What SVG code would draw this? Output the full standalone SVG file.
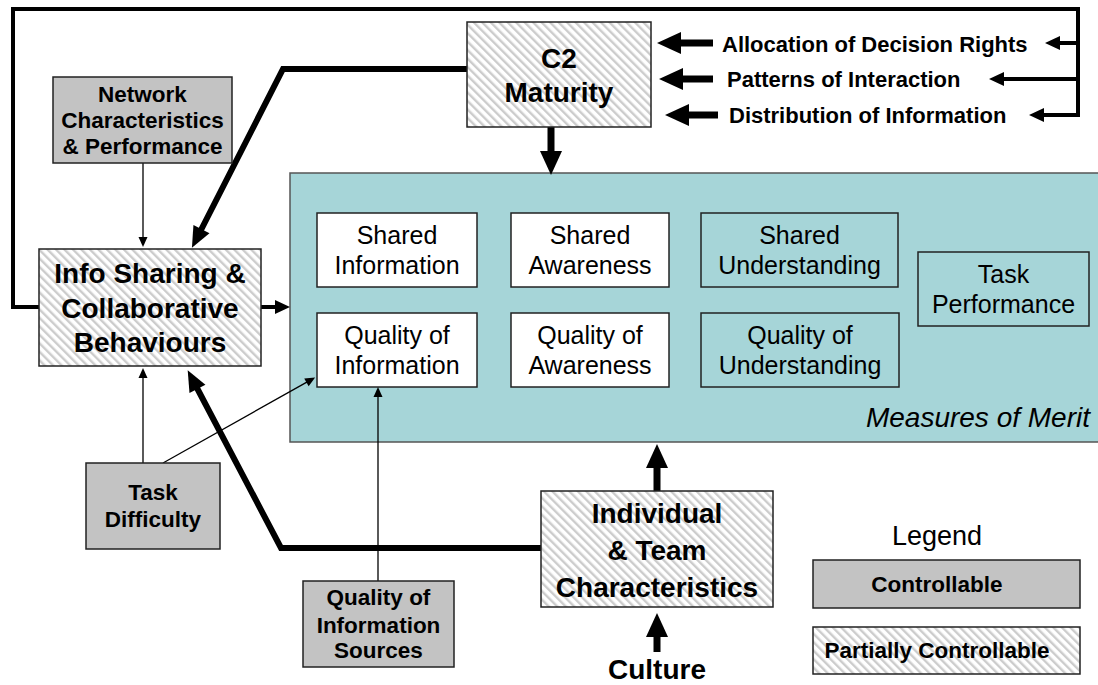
<svg xmlns="http://www.w3.org/2000/svg" width="1098" height="685" viewBox="0 0 1098 685">
<defs>
<pattern id="hatch" patternUnits="userSpaceOnUse" width="6" height="6" patternTransform="rotate(-45)">
<rect width="6" height="6" fill="#ffffff"/>
<rect width="2.4" height="6" fill="#cccccc"/>
</pattern>
<marker id="hBig" markerUnits="userSpaceOnUse" markerWidth="26" markerHeight="26" viewBox="0 -12 26 24" refX="1" refY="0" orient="auto" overflow="visible"><path d="M0,-11 L24,0 L0,11 z" fill="#000"/></marker>
<marker id="hDiag" markerUnits="userSpaceOnUse" markerWidth="22" markerHeight="20" viewBox="0 -10 22 20" refX="1" refY="0" orient="auto" overflow="visible"><path d="M0,-9 L21,0 L0,9 z" fill="#000"/></marker>
<marker id="hMid" markerUnits="userSpaceOnUse" markerWidth="16" markerHeight="16" viewBox="0 -8 16 16" refX="1" refY="0" orient="auto" overflow="visible"><path d="M0,-7 L15,0 L0,7 z" fill="#000"/></marker>
<marker id="hThin" markerUnits="userSpaceOnUse" markerWidth="12" markerHeight="10" viewBox="0 -5 12 10" refX="1" refY="0" orient="auto" overflow="visible"><path d="M0,-4.5 L10,0 L0,4.5 z" fill="#000"/></marker>
</defs>
<style>
text{font-family:"Liberation Sans",Arial,sans-serif;fill:#000;}
.bb{font-weight:bold;font-size:28px;text-anchor:middle;}
.bm{font-weight:bold;font-size:22.5px;text-anchor:middle;}
.fb{font-weight:bold;font-size:22px;}
.rg{font-size:25px;text-anchor:middle;}
.hatch{fill:url(#hatch);stroke:#222;stroke-width:1.5;}
.ctrl{fill:#c3c3c3;stroke:#222;stroke-width:1.5;}
.mw{fill:#ffffff;stroke:#222;stroke-width:1.5;}
.mt{fill:#a6d5d8;stroke:#222;stroke-width:1.5;}
.thick{fill:none;stroke:#000;stroke-width:7;}
.heavy{fill:none;stroke:#000;stroke-width:6;}
.loop{fill:none;stroke:#000;stroke-width:4;}
.thin{fill:none;stroke:#000;stroke-width:1.3;}
</style>
<rect width="1098" height="685" fill="#ffffff"/>

<g id="measures-of-merit">
<rect x="290" y="173" width="820" height="269" fill="#a6d5d8" stroke="#555" stroke-width="1.5"/>
<text x="1090" y="427" font-size="28" font-style="italic" text-anchor="end">Measures of Merit</text>
</g>
<g id="shared-information"><rect class="mw" x="317" y="213" width="160" height="74"/><text class="rg" x="397" y="244">Shared</text><text class="rg" x="397" y="274">Information</text></g>
<g id="shared-awareness"><rect class="mw" x="511" y="213" width="158" height="74"/><text class="rg" x="590" y="244">Shared</text><text class="rg" x="590" y="274">Awareness</text></g>
<g id="shared-understanding"><rect class="mt" x="701" y="213" width="197" height="74"/><text class="rg" x="799.5" y="244">Shared</text><text class="rg" x="799.5" y="274">Understanding</text></g>
<g id="quality-information"><rect class="mw" x="317" y="313" width="160" height="74"/><text class="rg" x="397" y="344">Quality of</text><text class="rg" x="397" y="374">Information</text></g>
<g id="quality-awareness"><rect class="mw" x="511" y="313" width="158" height="74"/><text class="rg" x="590" y="344">Quality of</text><text class="rg" x="590" y="374">Awareness</text></g>
<g id="quality-understanding"><rect class="mt" x="701" y="313" width="198" height="74"/><text class="rg" x="800" y="344">Quality of</text><text class="rg" x="800" y="374">Understanding</text></g>
<g id="task-performance"><rect class="mt" x="918" y="252" width="171" height="74"/><text class="rg" x="1003.5" y="283">Task</text><text class="rg" x="1003.5" y="313">Performance</text></g>

<g id="connectors">
<path class="loop" d="M39,307 H13 V9 H1078 V117"/>
<path class="loop" d="M1078,43 H1059" marker-end="url(#hMid)"/>
<path class="loop" d="M1078,79 H1003" marker-end="url(#hMid)"/>
<path class="loop" d="M1078,115 H1043" marker-end="url(#hMid)"/>
<path class="thick" d="M713,43 H680" marker-end="url(#hBig)"/>
<path class="thick" d="M713,79 H682" marker-end="url(#hBig)"/>
<path class="thick" d="M718,115 H688" marker-end="url(#hBig)"/>
<path class="thick" d="M551,127 V152" marker-end="url(#hBig)"/>
<path class="thick" d="M657,491 V467" marker-end="url(#hBig)"/>
<path class="thick" d="M657,652 V636" marker-end="url(#hBig)"/>
<path class="heavy" d="M467,69 H283 L201,230" stroke-linejoin="miter" marker-end="url(#hDiag)"/>
<path class="heavy" d="M541,548 H281 L197,388" stroke-linejoin="miter" marker-end="url(#hDiag)"/>
<path class="loop" d="M261,307 H276" stroke-width="5" marker-end="url(#hMid)"/>
<path class="thin" d="M143,163 V238" marker-end="url(#hThin)"/>
<path class="thin" d="M143,463 V377" marker-end="url(#hThin)"/>
<path class="thin" d="M163,463 L307.3,381.9" marker-end="url(#hThin)"/>
<path class="thin" d="M378,581 V396" marker-end="url(#hThin)"/>
</g>

<g id="c2-maturity"><rect class="hatch" x="467" y="22" width="184" height="105"/><text class="bb" x="559" y="68">C2</text><text class="bb" x="559" y="102">Maturity</text></g>
<g id="allocation-label"><text class="fb" x="722" y="52">Allocation of Decision Rights</text></g>
<g id="patterns-label"><text class="fb" x="727" y="87">Patterns of Interaction</text></g>
<g id="distribution-label"><text class="fb" x="729" y="123">Distribution of Information</text></g>
<g id="network"><rect class="ctrl" x="53" y="77" width="179" height="86"/><text class="bm" x="142.5" y="102">Network</text><text class="bm" x="142.5" y="128">Characteristics</text><text class="bm" x="142.5" y="154">&amp; Performance</text></g>
<g id="info-sharing"><rect class="hatch" x="39" y="249" width="222" height="117"/><text class="bb" x="150" y="283">Info Sharing &amp;</text><text class="bb" x="150" y="318">Collaborative</text><text class="bb" x="150" y="352">Behaviours</text></g>
<g id="task-difficulty"><rect class="ctrl" x="86" y="463" width="134" height="86"/><text class="bm" x="153" y="500">Task</text><text class="bm" x="153" y="527">Difficulty</text></g>
<g id="info-sources"><rect class="ctrl" x="303" y="581" width="151" height="86"/><text class="bm" x="378.5" y="605">Quality of</text><text class="bm" x="378.5" y="633">Information</text><text class="bm" x="378.5" y="658">Sources</text></g>
<g id="individual-team"><rect class="hatch" x="541" y="491" width="232" height="116"/><text class="bb" x="657" y="523">Individual</text><text class="bb" x="657" y="560">&amp; Team</text><text class="bb" x="657" y="597">Characteristics</text></g>
<g id="culture"><text class="bb" x="657" y="679">Culture</text></g>
<g id="legend">
<text x="937" y="545" font-size="27" text-anchor="middle">Legend</text>
<rect class="ctrl" x="813" y="560" width="267" height="48"/><text class="bm" x="937" y="592">Controllable</text>
<rect class="hatch" x="813" y="627" width="267" height="47"/><text class="bm" x="937" y="658">Partially Controllable</text>
</g>
</svg>
